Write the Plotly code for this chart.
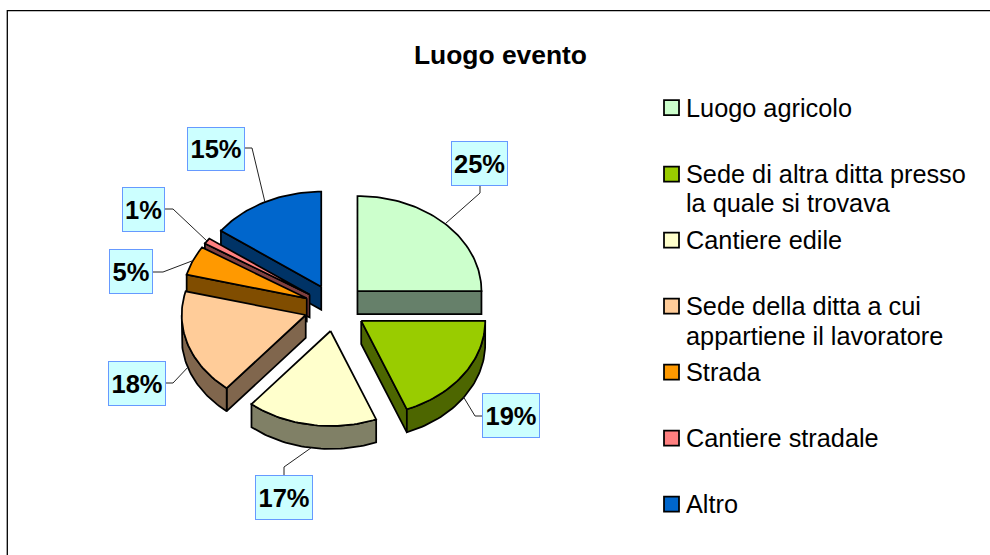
import math
import plotly.graph_objects as go

# ---- data ----
categories = ["Luogo agricolo", "Sede di altra ditta presso la quale si trovava", "Cantiere edile",
              "Sede della ditta a cui appartiene il lavoratore", "Strada", "Cantiere stradale", "Altro"]
values = [25, 19, 17, 18, 5, 1, 15]
title = "Luogo evento"
legend_lines = [["Luogo agricolo"], ["Sede di altra ditta presso", "la quale si trovava"], ["Cantiere edile"],
                ["Sede della ditta a cui", "appartiene il lavoratore"], ["Strada"], ["Cantiere stradale"], ["Altro"]]

# ---- style / layout ----
face = ["#CCFFCC", "#99CC00", "#FFFFCC", "#FFCC99", "#FF9900", "#FF8080", "#0066CC"]
side = ["#66806A", "#4D6600", "#808066", "#80664D", "#804D00", "#804040", "#003366"]
CX, CY, RX, RY, DEPTH = 335.4, 307.7, 124.0, 95.0, 23.0
EX, EY = 31.2, 23.6
EDGE = 1.75
FONT = "Liberation Sans, Arial, sans-serif"
label_boxes = [(451, 508, 141, 186), (482, 540, 393, 438), (255, 313, 475, 520), (108, 166, 361, 406),
               (109, 153, 249, 294), (122, 165, 187, 232), (187, 245, 127, 171)]
# leader: point where it leaves the box, elbow
leaders = [((480, 186), (480, 193)), ((482, 416), (475, 416)), ((284, 475), (284, 467)), ((166, 383), (173, 383)),
           ((153, 272), (163, 272)), ((165, 209), (173, 209)), ((245, 148), (252, 148))]
legend_swatch_x = 671.5
legend_y = [107.5, 174, 240, 306, 372, 438, 504]
legend_line_gap = [0, 28.5, 0, 30, 0, 0, 0]
legend_text_x = 684

fig = go.Figure()


def poly(xs, ys, fill, width=EDGE):
    fig.add_trace(go.Scatter(x=xs, y=ys, mode="lines", fill="toself", fillcolor=fill,
                             line=dict(color="#000000", width=width), hoverinfo="skip", showlegend=False))


def pt(ax, ay, deg):
    r = math.radians(deg)
    return ax + RX * math.cos(r), ay + RY * math.sin(r)


# angular extents (clockwise from 12 o'clock -> t=-90 deg)
spans = []
t = -90.0
total = sum(values)
for v in values:
    spans.append((t, t + 360.0 * v / total))
    t += 360.0 * v / total

wedges = []
for (t0, t1) in spans:
    mid = math.radians((t0 + t1) / 2)
    wedges.append((CX + EX * math.cos(mid), CY + EY * math.sin(mid)))

# painter's order: the back slices first
for i in [6, 5, 4, 3, 2, 1, 0]:
    t0, t1 = spans[i]
    ax, ay = wedges[i]
    n = max(3, int((t1 - t0) / 1.5))
    # radial walls that face the viewer
    for tt, nrm in ((t0, t0 - 90), (t1, t1 + 90)):
        if math.sin(math.radians(nrm)) > 1e-6:
            px, py = pt(ax, ay, tt)
            poly([ax, px, px, ax, ax], [ay, py, py + DEPTH, ay + DEPTH, ay], side[i])
    # outer wall (lower half of the ellipse only)
    a0, a1 = max(t0, 0.0), min(t1, 180.0)
    if a1 > a0:
        ts = [a0 + (a1 - a0) * k / n for k in range(n + 1)]
        top = [pt(ax, ay, q) for q in ts]
        xs = [p[0] for p in top] + [p[0] for p in reversed(top)] + [top[0][0]]
        ys = [p[1] for p in top] + [p[1] + DEPTH for p in reversed(top)] + [top[0][1]]
        poly(xs, ys, side[i])
    # top face
    ts = [t0 + (t1 - t0) * k / n for k in range(n + 1)]
    arc = [pt(ax, ay, q) for q in ts]
    poly([ax] + [p[0] for p in arc] + [ax], [ay] + [p[1] for p in arc] + [ay], face[i])

# leader lines and data labels
annotations = []
for i, v in enumerate(values):
    t0, t1 = spans[i]
    tm = (t0 + t1) / 2
    ex, ey = pt(wedges[i][0], wedges[i][1], tm)
    if 0 < tm < 180:
        ey += DEPTH
    (sx, sy), (bx, by) = leaders[i]
    fig.add_trace(go.Scatter(x=[sx, bx, ex], y=[sy, by, ey], mode="lines",
                             line=dict(color="#222222", width=1), hoverinfo="skip", showlegend=False))
    x0, x1, y0, y1 = label_boxes[i]
    annotations.append(dict(x=(x0 + x1) / 2, y=(y0 + y1) / 2, xref="x", yref="y", text=f"<b>{v}%</b>",
                            showarrow=False, width=x1 - x0 - 2, height=y1 - y0 - 2, align="center", valign="middle",
                            bgcolor="#CCFFFF", bordercolor="#6699FF", borderwidth=1, borderpad=0,
                            font=dict(family=FONT, size=25.5, color="#000000")))

# legend
fig.add_trace(go.Scatter(x=[legend_swatch_x] * len(values), y=legend_y, mode="markers",
                         marker=dict(symbol="square", size=15, color=face, line=dict(color="#000000", width=1.75)),
                         hoverinfo="skip", showlegend=False))
for i, lines in enumerate(legend_lines):
    for j, line in enumerate(lines):
        annotations.append(dict(x=legend_text_x, y=legend_y[i] + j * legend_line_gap[i], xref="x", yref="y",
                                text=line, showarrow=False, xanchor="left", yanchor="middle",
                                font=dict(family=FONT, size=25.3, color="#000000")))

annotations.append(dict(x=500, y=55, xref="x", yref="y", text=f"<b>{title}</b>", showarrow=False,
                        font=dict(family=FONT, size=26.4, color="#000000")))

fig.update_layout(
    width=990, height=555, margin=dict(l=0, r=0, t=0, b=0),
    paper_bgcolor="#FFFFFF", plot_bgcolor="#FFFFFF", showlegend=False,
    xaxis=dict(range=[0, 990], visible=False, fixedrange=True),
    yaxis=dict(range=[555, 0], visible=False, fixedrange=True),
    annotations=annotations,
    shapes=[dict(type="rect", xref="x", yref="y", x0=7.3, y0=10.7, x1=1200, y1=800,
                 line=dict(color="#000000", width=1.3), fillcolor="rgba(0,0,0,0)", layer="below")],
)
fig.write_html("out.html", config={"displayModeBar": False},
               post_script="document.body.style.margin='0';document.body.style.overflow='hidden';")
